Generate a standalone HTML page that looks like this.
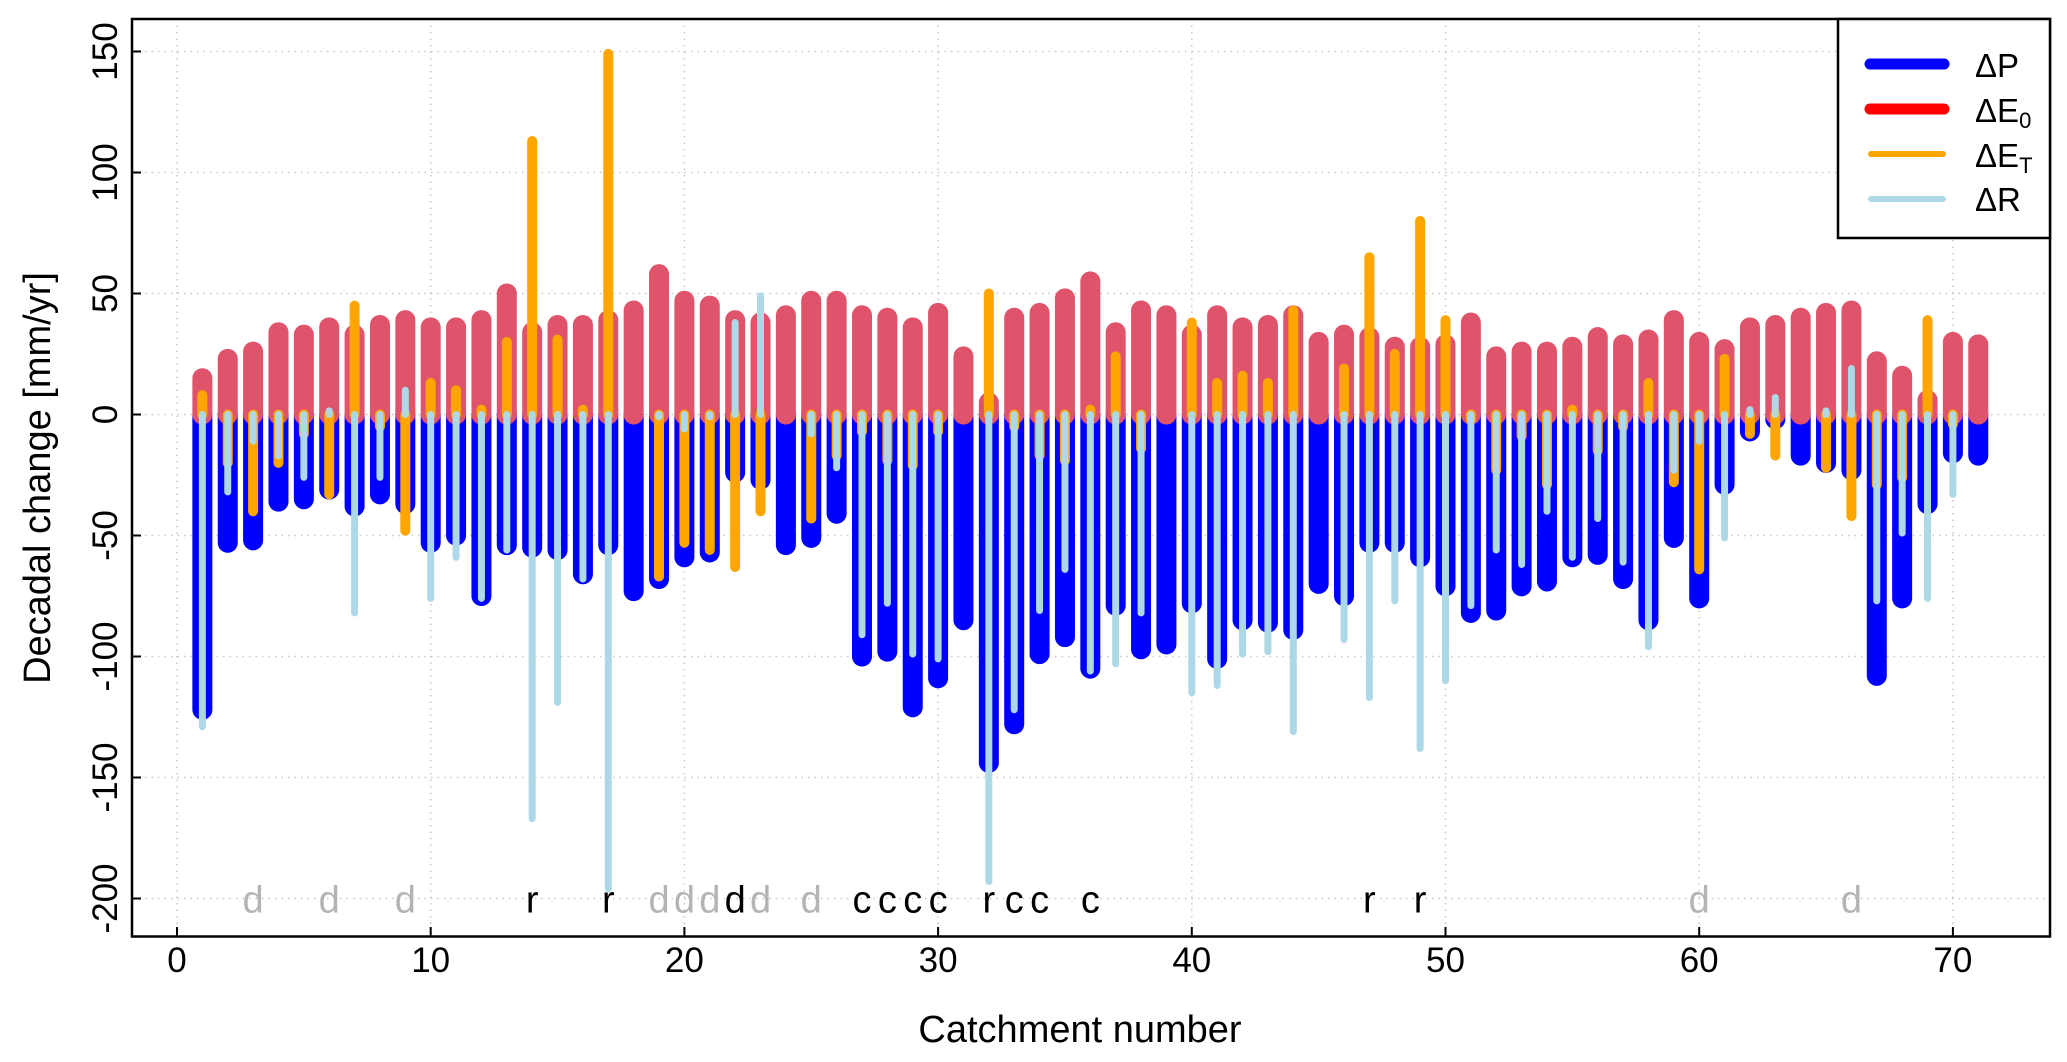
<!DOCTYPE html>
<html><head><meta charset="utf-8"><style>
html,body{margin:0;padding:0;background:#fff;}
svg{display:block;font-family:"Liberation Sans",Arial,sans-serif;}
</style></head><body>
<svg id="chart" width="2067" height="1062" viewBox="0 0 2067 1062">
<g id="grid"></g>
<g id="bars"></g>
<g id="letters"></g>
<rect x="132" y="19" width="1918" height="917.5" fill="none" stroke="#000" stroke-width="2.5"/>
<g id="axes"></g>
<text x="1080" y="1042" font-size="38" text-anchor="middle">Catchment number</text>
<text transform="translate(50,478) rotate(-90)" font-size="38" text-anchor="middle">Decadal change [mm/yr]</text>
<g>
<rect x="1838" y="19" width="212" height="219" fill="#fff" stroke="#000" stroke-width="2.5"/>
<g>
<line x1="1870" y1="64" x2="1944" y2="64" stroke="#0000FF" stroke-width="11" stroke-linecap="round"/>
<text x="1975" y="77" font-size="33">ΔP</text></g>
<g>
<line x1="1870" y1="109" x2="1944" y2="109" stroke="#FF0000" stroke-width="11" stroke-linecap="round"/>
<text x="1975" y="122" font-size="33">ΔE<tspan font-size="22" dy="6">0</tspan></text></g>
<g>
<line x1="1871" y1="154" x2="1943" y2="154" stroke="#FFA500" stroke-width="6" stroke-linecap="round"/>
<text x="1975" y="167" font-size="33">ΔE<tspan font-size="22" dy="6">T</tspan></text></g>
<g>
<line x1="1871" y1="199" x2="1943" y2="199" stroke="#ADD8E6" stroke-width="6" stroke-linecap="round"/>
<text x="1975" y="211" font-size="33">ΔR</text></g>
</g>
</svg>
<script>
const catchments = Array.from({length:71},(_,i)=>i+1);
const dP  = [-122,-53,-52,-36,-35,-31,-38,-33,-37,-53,-50,-75,-54,-55,-56,-66,-54,-73,-68,-59,-57,-24,-27,-54,-51,-41,-100,-98,-121,-109,-85,-144,-128,-99,-92,-105,-79,-97,-95,-78,-101,-85,-86,-89,-70,-75,-53,-53,-59,-71,-82,-81,-71,-69,-59,-58,-68,-85,-51,-76,-29,-7,-2,-17,-20,-23,-108,-76,-37,-16,-17];
const dE0 = [15,23,26,34,33,36,33,37,39,36,36,39,50,34,37,37,39,43,58,47,45,39,38,41,47,47,41,40,36,42,24,5,40,42,48,55,34,43,41,33,41,36,37,41,30,33,32,28,28,29,38,24,26,26,28,32,29,31,39,30,27,36,37,40,42,43,22,16,6,30,29];
const dET = [8,-20,-40,-20,-8,-33,45,-5,-48,13,10,2,30,113,31,2,149,null,-67,-53,-56,-63,-40,null,-43,-17,-7,-19,-21,-7,null,50,-5,-17,-19,2,24,-14,null,38,13,16,13,43,null,19,65,25,80,39,-2,-23,-9,-29,2,-15,-5,13,-28,-64,23,-8,-17,null,-22,-42,-29,-26,39,-4,null];
const dR  = [-129,-32,-11,-17,-26,1.5,-82,-26,10,-76,-59,-76,-56,-167,-119,-68,-196,null,-1,-6,-1,38,49,null,-8,-22,-91,-78,-99,-101,null,-193,-122,-81,-64,-106,-103,-82,null,-115,-112,-99,-98,-131,null,-93,-117,-77,-138,-110,-79,-56,-62,-40,-59,-43,-61,-96,-23,-11,-51,2,7,null,1.5,19,-77,-49,-76,-33,null];
const flagIdx  = [3,6,9,14,17,19,20,21,22,23,25,27,28,29,30,32,33,34,36,47,49,60,66];
const flagText = ["d","d","d","r","r","d","d","d","d","d","d","c","c","c","c","r","c","c","c","r","r","d","d"];
const flagGrey = [1,1,1,0,0,1,1,1,0,1,1,0,0,0,0,0,0,0,0,0,0,1,1];
const xTicks = [0,10,20,30,40,50,60,70];
const yTicks = [-200,-150,-100,-50,0,50,100,150];

const NS="http://www.w3.org/2000/svg";
function xs(n){return 177+25.37*n;}
function ys(v){return 414.5-v*2.42;}
function mk(tag,attrs,parent){const e=document.createElementNS(NS,tag);for(const k in attrs)e.setAttribute(k,attrs[k]);parent.appendChild(e);return e;}
const grid=document.getElementById('grid'),bars=document.getElementById('bars'),axes=document.getElementById('axes'),letters=document.getElementById('letters');
xTicks.forEach(t=>{
  const g=mk('line',{x1:xs(t),x2:xs(t),y1:19,y2:936,stroke:'#c8c8c8','stroke-width':1.5,'stroke-dasharray':'1.5 5'},grid);
  
  
  const tk=mk('line',{x1:xs(t),x2:xs(t),y1:936,y2:927,stroke:'#000','stroke-width':2},axes);
  
  
  const tl=mk('text',{x:xs(t),y:972,'font-size':35,'text-anchor':'middle'},axes);
  tl.textContent=t;
  
  
});
yTicks.forEach(t=>{
  const g=mk('line',{x1:132,x2:2050,y1:ys(t),y2:ys(t),stroke:'#c8c8c8','stroke-width':1.5,'stroke-dasharray':'1.5 5'},grid);
  
  
  const tk=mk('line',{x1:132,x2:141,y1:ys(t),y2:ys(t),stroke:'#000','stroke-width':2},axes);
  
  
  const tl=mk('text',{transform:`translate(117,${ys(t)}) rotate(-90)`,'font-size':35,'text-anchor':'middle'},axes);
  tl.textContent=t;
  
  
});
function bar(n,v,color,w,name){
  if(v===null||v===undefined)return;
  const l=mk('line',{x1:xs(n),x2:xs(n),y1:ys(0),y2:ys(v),stroke:color,'stroke-width':w,'stroke-linecap':'round'},bars);
  
  
}
catchments.forEach((n,i)=>{
  bar(n,dP[i],'#0000FF',20,'bar-dp');
  bar(n,dE0[i],'#DF536B',20,'bar-de0');
  bar(n,dET[i],'#FFA500',10,'bar-det');
  bar(n,dR[i],'#ADD8E6',7,'bar-dr');
});
flagIdx.forEach((n,i)=>{
  const t=mk('text',{x:xs(n),y:ys(-200)+14,'font-size':38,'text-anchor':'middle',fill:flagGrey[i]?'#b4b4b4':'#000'},letters);
  t.textContent=flagText[i];
  
  
});
</script>
</body></html>
